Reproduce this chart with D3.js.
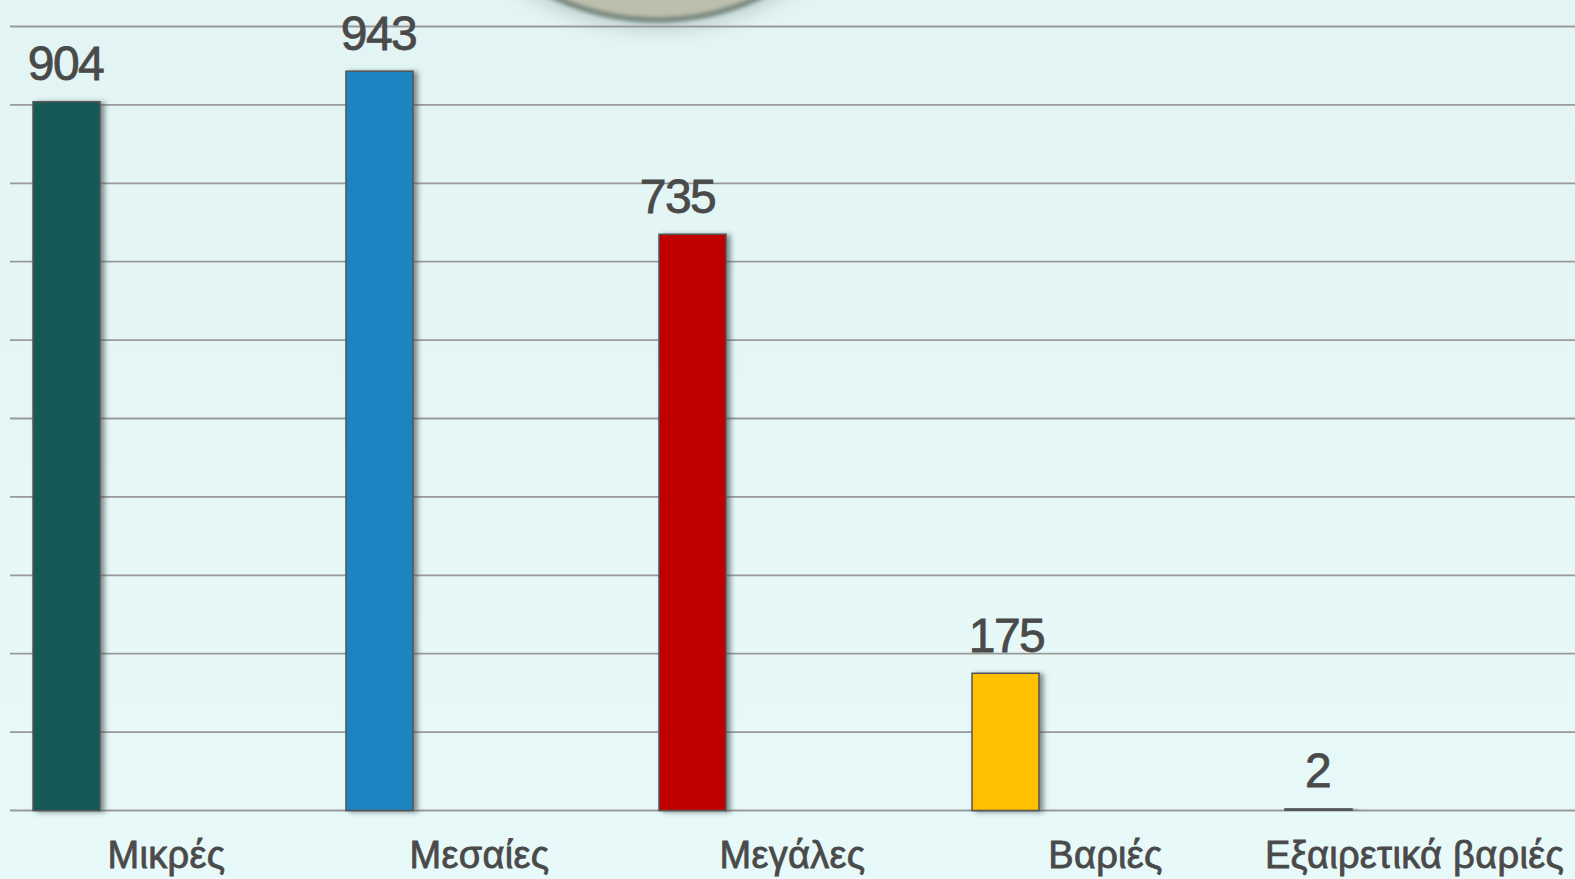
<!doctype html>
<head>
  <meta charset="utf-8">
  <script src="https://cdn.jsdelivr.net/npm/d3@7/dist/d3.min.js"></script>
</head>

<style type="text/css">
  html, body { margin: 0; padding: 0; overflow: hidden; }
  body { background: #e6f8f8; }
  text { font-family: 'Liberation Sans', Arial, sans-serif; fill: #4a4a4a;
         stroke: #4a4a4a; stroke-width: 0.8px; }
  .value_label { font-size: 48px; letter-spacing: -1.5px; }
  .cat_label { font-size: 38px; letter-spacing: 0.3px; }
</style>

<body>
<svg></svg>
<script>
// data
var categories = ["Μικρές", "Μεσαίες", "Μεγάλες", "Βαριές", "Εξαιρετικά βαριές"];
var values = [904, 943, 735, 175, 2];
var colors = ["#125a59", "#1d85c1", "#c00000", "#ffc000", "#7f7f7f"];
var yTicks = [0, 100, 200, 300, 400, 500, 600, 700, 800, 900, 1000];

// the 735 label sits a little left of its bar in the original
var labelNudge = [-1, -1, -15, 1, -1];

var W = 1575, H = 879;

var svg = d3.select("svg").attr("width", W).attr("height", H);
var defs = svg.append("defs");

// background
var bg = defs.append("linearGradient").attr("id", "bg")
  .attr("x1", 0).attr("y1", 0).attr("x2", 0).attr("y2", 1);
bg.append("stop").attr("offset", "0%").attr("stop-color", "#e2f4f4");
bg.append("stop").attr("offset", "100%").attr("stop-color", "#e7f9f9");
svg.append("rect").attr("width", W).attr("height", H).attr("fill", "url(#bg)");

// filters
defs.append("filter").attr("id", "blur")
  .attr("x", "-20%").attr("y", "-20%").attr("width", "140%").attr("height", "140%")
  .append("feGaussianBlur").attr("stdDeviation", 2);

var sh = defs.append("filter").attr("id", "shadow")
  .attr("x", "-20%").attr("y", "-20%").attr("width", "150%").attr("height", "140%");
sh.append("feDropShadow")
  .attr("dx", 4).attr("dy", 1).attr("stdDeviation", 2.8)
  .attr("flood-color", "#3a4a4a").attr("flood-opacity", 0.6);

defs.append("filter").attr("id", "discshadow")
  .attr("x", "-30%").attr("y", "-30%").attr("width", "160%").attr("height", "160%")
  .append("feGaussianBlur").attr("stdDeviation", 8);

// decorative disc peeking in at the top
svg.append("circle")
  .attr("cx", 657).attr("cy", -218).attr("r", 250)
  .attr("fill", "#9fb5b0").attr("opacity", 0.45)
  .attr("filter", "url(#discshadow)");
svg.append("circle")
  .attr("cx", 657).attr("cy", -223).attr("r", 243)
  .attr("fill", "#bcbfac").attr("stroke", "#6a7c75").attr("stroke-width", 5)
  .attr("filter", "url(#blur)");

// scales
var x = d3.scaleBand().domain(categories).range([10, W]).paddingInner(0).paddingOuter(0);
var y = d3.scaleLinear().domain([0, 1000]).range([810.5, 26.5]);

var barOffset = x.bandwidth() * 0.0735;
var barWidth = x.bandwidth() * 0.214;

// gridlines
svg.append("g").classed("grid", true)
  .selectAll("line").data(yTicks).enter().append("line")
  .attr("x1", 10).attr("x2", W)
  .attr("y1", function(d){ return y(d); })
  .attr("y2", function(d){ return y(d); })
  .attr("stroke", "#9a9a9a").attr("stroke-width", 1.8);

// bars
var rows = categories.map(function(c, i){
  return {cat: c, val: values[i], col: colors[i], nudge: labelNudge[i]};
});

svg.append("g").classed("bars", true)
  .selectAll("rect").data(rows).enter().append("rect")
  .attr("x", function(d){ return x(d.cat) + barOffset; })
  .attr("y", function(d){ return y(d.val); })
  .attr("width", barWidth)
  .attr("height", function(d){ return y(0) - y(d.val); })
  .attr("fill", function(d){ return d.col; })
  .attr("stroke", "#555555").attr("stroke-width", 1.5)
  .attr("filter", "url(#shadow)");

// value labels
svg.append("g")
  .selectAll("text").data(rows).enter().append("text")
  .classed("value_label", true)
  .attr("text-anchor", "middle")
  .attr("x", function(d){ return x(d.cat) + barOffset + barWidth/2 + d.nudge; })
  .attr("y", function(d){ return y(d.val) - 21.5; })
  .text(function(d){ return d.val; });

// category labels
svg.append("g")
  .selectAll("text").data(categories).enter().append("text")
  .classed("cat_label", true)
  .attr("text-anchor", "middle")
  .attr("x", function(d, i){ return x(d) + x.bandwidth()/2 - (i === categories.length-1 ? 4 : 0); })
  .attr("y", 868)
  .text(function(d){ return d; });
</script>
</body>
